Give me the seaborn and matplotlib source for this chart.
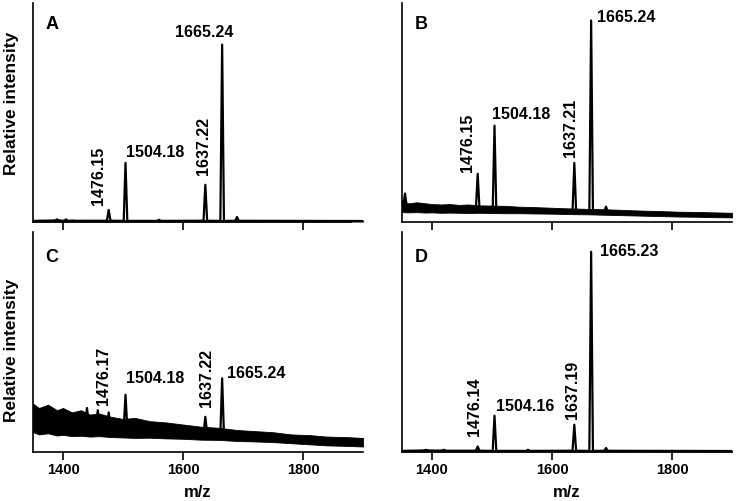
import numpy as np
import pandas as pd
import matplotlib
matplotlib.use("Agg")
import matplotlib.pyplot as plt
import seaborn as sns

sns.set_theme(style="ticks")
plt.rcParams['font.family'] = ['Liberation Sans', 'DejaVu Sans']
plt.rcParams['font.weight'] = 'bold'
plt.rcParams['text.color'] = 'black'
plt.rcParams['axes.labelcolor'] = 'black'

# m/z axis
mz_ticks = [1400, 1600, 1800]
noise_mz = [1350, 1360, 1375, 1390, 1400, 1415, 1430, 1445, 1460, 1480, 1500, 1520, 1545,
            1570, 1600, 1630, 1660, 1690, 1720, 1750, 1780, 1810, 1840, 1870, 1900]

# panel A
a_peak_mz = [1476.15, 1504.18, 1637.22, 1665.24]
a_peak_int = [0.055, 0.27, 0.17, 0.81]
a_labels = ["1476.15", "1504.18", "1637.22", "1665.24"]
a_minor_mz = [1390, 1405, 1560, 1690]
a_minor_int = [0.012, 0.012, 0.01, 0.023]
a_noise_hi = [0.008, 0.01, 0.007, 0.012, 0.008, 0.011, 0.007, 0.009, 0.008, 0.01, 0.008, 0.009, 0.007,
              0.009, 0.008, 0.01, 0.008, 0.009, 0.007, 0.008, 0.007, 0.008, 0.007, 0.007, 0.007]
a_noise_lo = [0.002] * 25

# panel B
b_peak_mz = [1476.15, 1504.18, 1637.21, 1665.24]
b_peak_int = [0.22, 0.44, 0.27, 0.92]
b_labels = ["1476.15", "1504.18", "1637.21", "1665.24"]
b_minor_mz = [1355, 1690]
b_minor_int = [0.13, 0.07]
b_noise_hi = [0.10, 0.085, 0.09, 0.085, 0.082, 0.08, 0.082, 0.078, 0.08, 0.076, 0.075, 0.074, 0.07,
              0.068, 0.065, 0.062, 0.06, 0.058, 0.055, 0.052, 0.05, 0.047, 0.046, 0.044, 0.042]
b_noise_lo = [0.045, 0.044, 0.045, 0.043, 0.044, 0.042, 0.043, 0.042, 0.041, 0.042, 0.041, 0.04, 0.04,
              0.039, 0.038, 0.036, 0.035, 0.033, 0.031, 0.029, 0.027, 0.025, 0.024, 0.022, 0.021]

# panel C
c_peak_mz = [1476.17, 1504.18, 1637.22, 1665.24]
c_peak_int = [0.18, 0.26, 0.16, 0.335]
c_labels = ["1476.17", "1504.18", "1637.22", "1665.24"]
c_minor_mz = [1440, 1458]
c_minor_int = [0.2, 0.19]
c_noise_hi = [0.22, 0.20, 0.215, 0.19, 0.20, 0.18, 0.19, 0.17, 0.175, 0.16, 0.15, 0.155, 0.14,
              0.135, 0.125, 0.115, 0.11, 0.10, 0.095, 0.09, 0.08, 0.077, 0.07, 0.068, 0.064]
c_noise_lo = [0.09, 0.08, 0.085, 0.075, 0.078, 0.072, 0.074, 0.07, 0.072, 0.068, 0.066, 0.064, 0.065,
              0.062, 0.06, 0.056, 0.055, 0.05, 0.048, 0.045, 0.04, 0.035, 0.03, 0.028, 0.025]

# panel D
d_peak_mz = [1476.14, 1504.16, 1637.19, 1665.23]
d_peak_int = [0.025, 0.165, 0.124, 0.91]
d_labels = ["1476.14", "1504.16", "1637.19", "1665.23"]
d_minor_mz = [1390, 1420, 1560, 1690]
d_minor_int = [0.01, 0.01, 0.01, 0.018]
d_noise_hi = a_noise_hi
d_noise_lo = a_noise_lo

# label placement (pixels from peak top): dx, dy, ha, rotation
label_offsets = {
    "A": [(-10.5, 5, "center", 90), (0, 10, "left", 0), (-2, 10, "center", 90), (-18, 12, "center", 0)],
    "B": [(-10.5, 2, "center", 90), (-2.5, 11, "left", 0), (-4, 6, "center", 90), (6, 3, "left", 0)],
    "C": [(-5.5, 7, "center", 90), (0, 16, "left", 0), (1, 10, "center", 90), (5, 5, "left", 0)],
    "D": [(-3, 11, "center", 90), (1.5, 9, "left", 0), (-2, 6, "center", 90), (9, 0, "left", 0)],
}


def spectrum(peak_mz, peak_int, minor_mz, minor_int, lo, hi, w=3.0):
    mid = (np.array(lo) + np.array(hi)) / 2
    mz = np.array(list(peak_mz) + list(minor_mz))
    inten = np.array(list(peak_int) + list(minor_int))
    order = np.argsort(mz)
    xs = [1350]
    ys = [np.interp(1350, noise_mz, mid)]
    for m, h in zip(mz[order], inten[order]):
        b = np.interp(m, noise_mz, mid)
        xs += [m - w, m, m + w]
        ys += [b, h, b]
    xs.append(1900)
    ys.append(np.interp(1900, noise_mz, mid))
    return pd.DataFrame({"mz": xs, "intensity": ys})


panels = [
    ("A", a_peak_mz, a_peak_int, a_labels, a_minor_mz, a_minor_int, a_noise_lo, a_noise_hi),
    ("B", b_peak_mz, b_peak_int, b_labels, b_minor_mz, b_minor_int, b_noise_lo, b_noise_hi),
    ("C", c_peak_mz, c_peak_int, c_labels, c_minor_mz, c_minor_int, c_noise_lo, c_noise_hi),
    ("D", d_peak_mz, d_peak_int, d_labels, d_minor_mz, d_minor_int, d_noise_lo, d_noise_hi),
]

W, H = 737, 501
boxes = {"A": (33, 3, 363, 222), "B": (402, 3, 732, 222),
         "C": (33, 232, 363, 452), "D": (402, 232, 732, 452)}

fig = plt.figure(figsize=(W / 100, H / 100), dpi=100)

for name, pmz, pint, labs, mmz, mint, lo, hi in panels:
    x0, y0, x1, y1 = boxes[name]
    ax = fig.add_axes([x0 / W, 1 - y1 / H, (x1 - x0) / W, (y1 - y0) / H])

    ax.fill_between(noise_mz, lo, hi, color="black", lw=0.6)
    df = spectrum(pmz, pint, mmz, mint, lo, hi)
    sns.lineplot(data=df, x="mz", y="intensity", ax=ax, color="black", lw=1.6,
                 estimator=None, sort=False)

    for m, h, t, (dx, dy, ha, rot) in zip(pmz, pint, labs, label_offsets[name]):
        ax.annotate(t, xy=(m, h), xytext=(dx, dy), textcoords="offset pixels",
                    ha=ha, va="bottom" if rot else "center", rotation=rot,
                    fontsize=11.5, fontweight="bold", color="black")

    ax.set_xlim(1350, 1900)
    ax.set_ylim(0, 1)
    ax.set_xticks(mz_ticks)
    ax.set_yticks([])
    sns.despine(ax=ax)
    for s in ["left", "bottom"]:
        ax.spines[s].set_linewidth(1.2)
        ax.spines[s].set_color("black")
    ax.tick_params(axis="x", direction="out", length=5.5, width=1.2, color="black",
                   labelsize=10.5, pad=2.5, labelcolor="black")
    ax.text(0.038, 0.90 if name in "AB" else 0.886, name, transform=ax.transAxes,
            fontsize=13, fontweight="bold", va="center", ha="left", color="black")

    if name in "AB":
        ax.tick_params(axis="x", labelbottom=False)
        ax.set_xlabel("")
    else:
        ax.set_xlabel("m/z", fontsize=12, fontweight="bold", color="black")
        ax.xaxis.set_label_coords(0.5, -0.15)
    if name == "A":
        ax.spines["bottom"].set_bounds(1350, 1880)
    if name in "AC":
        ax.set_ylabel("Relative intensity", fontsize=12.5, fontweight="bold", color="black")
        ax.yaxis.set_label_coords(-0.042, 0.541 if name == "A" else 0.464)
    else:
        ax.set_ylabel("")

fig.savefig("out.png", dpi=100)
